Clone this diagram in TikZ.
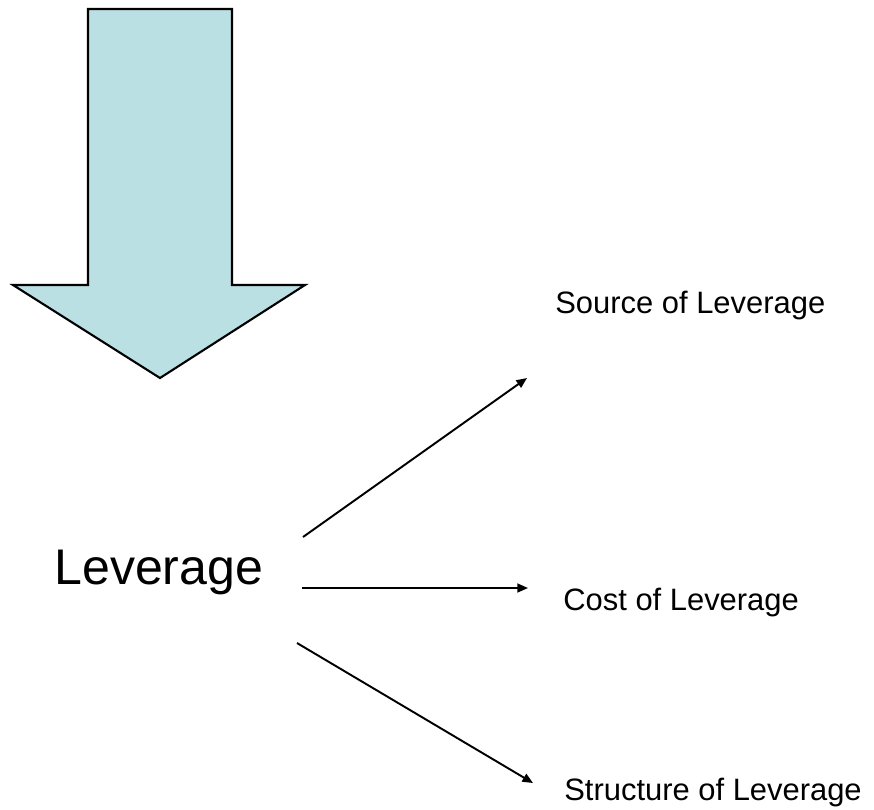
\documentclass[tikz,border=0pt]{standalone}
\usepackage{fontspec}
\setmainfont{Liberation Sans}
\usetikzlibrary{arrows.meta}
\definecolor{arrowfill}{HTML}{BBE0E3}
\begin{document}
\begin{tikzpicture}[x=0.02cm,y=-0.02cm,>={Triangle[length=6pt,width=5pt]},
    item/.style={anchor=base west,inner sep=0pt,font=\fontsize{17.6}{20}\selectfont},
    link/.style={->,line width=1.1pt}]
    \useasboundingbox (0,0) rectangle (874,809);
    % big down arrow
    \draw[fill=arrowfill,line width=1.2pt,line join=miter]
      (88,9) -- (232,9) -- (232,285) -- (305,285) -- (160,378) -- (13,285) -- (88,285) -- cycle;
    \node[anchor=base west,inner sep=0pt,font=\fontsize{28.5}{32}\selectfont] (lev) at (54,584) {Leverage};
    \node[item] (src) at (555,313) {Source of Leverage};
    \node[item] (cost) at (563,610) {Cost of Leverage};
    \node[item] (struct) at (564,800) {Structure of Leverage};
    \coordinate (a1) at (303,537); \coordinate (b1) at (527,378);
    \coordinate (a2) at (302,588); \coordinate (b2) at (528,588);
    \coordinate (a3) at (297,643); \coordinate (b3) at (533,783);
    \draw[link] (a1) -- (b1);
    \draw[link] (a2) -- (b2);
    \draw[link] (a3) -- (b3);
\end{tikzpicture}
\end{document}
